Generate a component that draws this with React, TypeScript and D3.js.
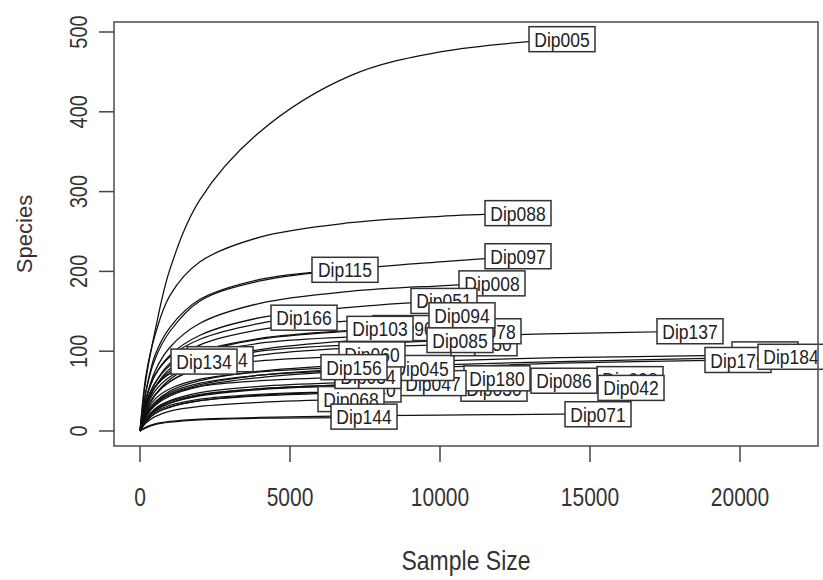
import React from 'react';
import * as d3 from 'd3';

// rarefaction curves, one per sample
const sampleNames = [
  'Dip170', 'Dip179', 'Dip184', 'Dip137', 'Dip071', 'Dip098', 'Dip042', 'Dip086',
  'Dip030', 'Dip180', 'Dip047', 'Dip045', 'Dip040', 'Dip068', 'Dip144', 'Dip034',
  'Dip060', 'Dip156', 'Dip124', 'Dip134', 'Dip166', 'Dip090', 'Dip103', 'Dip150',
  'Dip078', 'Dip085', 'Dip008', 'Dip051', 'Dip094', 'Dip097', 'Dip088', 'Dip115',
  'Dip005'
];
// total reads of each sample (end of curve)
const sampleSizes = [
  20833, 19933, 21700, 18333, 15267, 16333, 16367, 14133,
  11800, 11900, 9767, 9367, 7600, 7033, 7467, 7600,
  7733, 7133, 2667, 2133, 5467, 8867, 8000, 11467,
  11600, 10667, 11733, 10133, 10733, 12600, 12600, 6833,
  14067
];
// species observed at the full sample size
const speciesTotal = [
  96, 89, 93, 125, 21, 65, 54, 63,
  53, 66, 60, 79, 52, 40, 18, 69,
  96, 80, 90, 87, 142, 129, 128, 110,
  125, 114, 185, 163, 145, 219, 273, 202,
  491
];
// species read at these subsample sizes
const subsampleSizes = [0, 200, 500, 1000, 2000, 4000, 7000, 10000, 14000, 20000];
const speciesAtSubsample = [
  [0, 20, 36, 50, 63, 75, 83, 88, 92, 95],
  [0, 18, 32, 44, 56, 67, 75, 80, 85],
  [0, 18, 33, 46, 58, 70, 78, 83, 87, 92],
  [0, 25, 45, 65, 85, 102, 113, 118, 122],
  [0, 5, 9, 12, 15, 17, 19, 20, 21],
  [0, 14, 26, 35, 45, 53, 58, 62, 64],
  [0, 12, 22, 30, 38, 44, 48, 51, 53],
  [0, 14, 26, 35, 44, 52, 57, 60, 63],
  [0, 12, 22, 30, 38, 45, 49, 52],
  [0, 15, 28, 38, 48, 56, 61, 64],
  [0, 15, 27, 37, 46, 53, 58],
  [0, 20, 35, 48, 60, 70, 76],
  [0, 13, 24, 32, 40, 46, 50],
  [0, 10, 18, 25, 31, 36, 39],
  [0, 4, 8, 11, 14, 16, 17],
  [0, 20, 35, 46, 56, 63, 68],
  [0, 25, 45, 62, 78, 88, 94],
  [0, 22, 40, 53, 65, 74, 79],
  [0, 32, 55, 72, 86],
  [0, 35, 55, 72, 86],
  [0, 40, 70, 93, 115, 135],
  [0, 30, 55, 78, 98, 115, 125],
  [0, 35, 60, 82, 100, 116, 126],
  [0, 25, 45, 62, 80, 95, 104, 108],
  [0, 30, 55, 75, 95, 110, 118, 123],
  [0, 28, 50, 68, 85, 100, 108, 113],
  [0, 40, 75, 105, 135, 160, 175, 182],
  [0, 40, 70, 95, 120, 142, 155, 162],
  [0, 35, 60, 85, 108, 127, 138, 144],
  [0, 50, 95, 130, 165, 190, 203, 212],
  [0, 70, 120, 170, 212, 243, 261, 269],
  [0, 50, 90, 125, 163, 188],
  [0, 65, 125, 203, 290, 375, 445, 475]
];
const xTicks = [0, 5000, 10000, 15000, 20000];
const yTicks = [0, 100, 200, 300, 400, 500];

const W = 823;
const H = 580;
const box = { left: 114, right: 818, top: 22, bottom: 446 };
const STRETCH = 1.2; // the picture's text is taller than wide

export default function App() {
  const x = d3.scaleLinear().domain([0, 20000]).range([140, 740]);
  const y = d3.scaleLinear().domain([0, 500]).range([431, 32]);

  const line = d3.line<[number, number]>()
    .x(d => x(d[0]))
    .y(d => y(d[1]))
    .curve(d3.curveCatmullRom.alpha(0.5));

  const curves = sampleNames.map((name, i) => {
    const end = sampleSizes[i];
    const pts: [number, number][] = [];
    speciesAtSubsample[i].forEach((s, j) => {
      if (subsampleSizes[j] < end - 300) pts.push([subsampleSizes[j], s]);
    });
    pts.push([end, speciesTotal[i]]);
    return { name, pts, cx: x(end), cy: y(speciesTotal[i]) };
  });

  const labelW = 66;
  const labelH = 25;

  return (
    <svg width={W} height={H} style={{ position: 'absolute', left: 0, top: 0, background: '#fff' }}
         fontFamily="'Liberation Sans', Arial, sans-serif">
      <rect x={0} y={0} width={W} height={H} fill="#fff" />
      <g>
        {curves.map(c => (
          <path key={c.name} d={line(c.pts) || ''} fill="none" stroke="#111" strokeWidth={1.25} />
        ))}
      </g>
      <g>
        {curves.map(c => (
          <g key={c.name}>
            <rect x={c.cx - labelW / 2} y={c.cy - labelH / 2} width={labelW} height={labelH}
                  fill="#fff" stroke="#333" strokeWidth={1.5} />
            <g transform={`translate(${c.cx},${c.cy}) scale(1,${STRETCH})`}>
              <text textAnchor="middle" dy="0.36em" fontSize={17.5} fill="#222">{c.name}</text>
            </g>
          </g>
        ))}
      </g>
      <rect x={box.left} y={box.top} width={box.right - box.left} height={box.bottom - box.top}
            fill="none" stroke="#555" strokeWidth={1.6} />
      {/* x axis */}
      <g>
        {xTicks.map(t => (
          <g key={t}>
            <line x1={x(t)} x2={x(t)} y1={box.bottom} y2={box.bottom + 16} stroke="#444" strokeWidth={1.5} />
            <g transform={`translate(${x(t)},${497}) scale(1,${STRETCH})`}>
              <text textAnchor="middle" dy="0.36em" fontSize={21} fill="#333">{t}</text>
            </g>
          </g>
        ))}
        <g transform={`translate(${(box.left + box.right) / 2},${560}) scale(1,${STRETCH})`}>
          <text textAnchor="middle" dy="0.36em" fontSize={23} fill="#333">Sample Size</text>
        </g>
      </g>
      {/* y axis */}
      <g>
        {yTicks.map(t => (
          <g key={t}>
            <line x1={box.left - 15} x2={box.left} y1={y(t)} y2={y(t)} stroke="#444" strokeWidth={1.5} />
            <g transform={`translate(${78},${y(t)}) rotate(-90) scale(1,${STRETCH})`}>
              <text textAnchor="middle" dy="0.36em" fontSize={20} fill="#333">{t}</text>
            </g>
          </g>
        ))}
        <g transform={`translate(${24},${(box.top + box.bottom) / 2}) rotate(-90)`}>
          <text textAnchor="middle" dy="0.36em" fontSize={22} fill="#333">Species</text>
        </g>
      </g>
    </svg>
  );
}
